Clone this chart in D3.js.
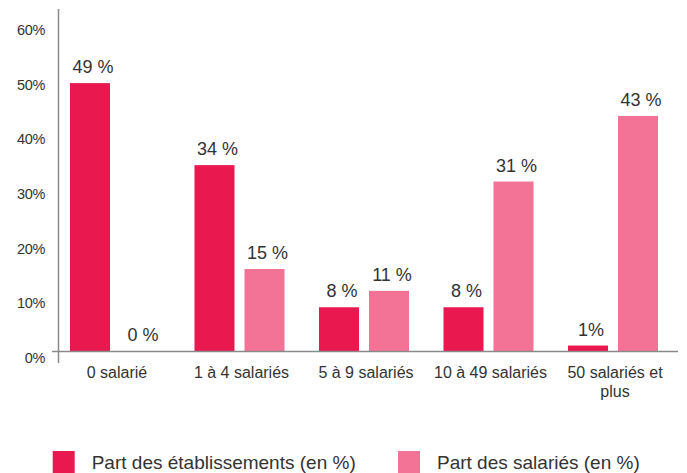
<!DOCTYPE html>
<html lang="fr">
<head>
<meta charset="utf-8">
<title>Etablissements et salariés par taille</title>
<script src="https://cdn.jsdelivr.net/npm/d3@7"></script>
<style>
  body { margin: 0; background: #fff; }
  text { font-family: "Liberation Sans", Arial, sans-serif; fill: #333; }
</style>
</head>
<body>
<script>
// data
var categories = ["0 salarié", "1 à 4 salariés", "5 à 9 salariés", "10 à 49 salariés", "50 salariés et plus"];
var seriesNames = ["Part des établissements (en %)", "Part des salariés (en %)"];
var etablissements = [49, 34, 8, 8, 1];
var salaries = [0, 15, 11, 31, 43];
var etabLabels = ["49 %", "34 %", "8 %", "8 %", "1%"];
var salLabels = ["0 %", "15 %", "11 %", "31 %", "43 %"];
var yTicks = [0, 10, 20, 30, 40, 50, 60];

var colors = ["#e9194f", "#f27395"];

var w = 687, h = 473;

var svg = d3.select("body").append("svg")
    .attr("width", w)
    .attr("height", h);

// scales
var y = d3.scaleLinear().domain([0, 60]).range([351, 23]);

var x0 = d3.scaleBand().domain(categories).range([52.75, 675.25]);
var x1 = d3.scaleBand().domain([0, 1]).range([17.25, 107.25]).paddingInner(0.2);

var rows = categories.map(function(c, i) {
  return {
    cat: c,
    vals: [
      { s: 0, v: etablissements[i], label: etabLabels[i] },
      { s: 1, v: salaries[i], label: salLabels[i] }
    ]
  };
});

// y tick labels, no tick marks
svg.selectAll("text.ytick")
  .data(yTicks)
  .enter().append("text")
  .attr("class", "ytick")
  .attr("x", 45)
  .attr("y", function(d) { return y(d) + 12; })
  .attr("text-anchor", "end")
  .attr("font-size", "14.5px")
  .attr("letter-spacing", "-0.3px")
  .text(function(d) { return d + "%"; });

// bars
var groups = svg.selectAll("g.grp")
  .data(rows)
  .enter().append("g")
  .attr("class", "grp")
  .attr("transform", function(d) { return "translate(" + x0(d.cat) + ",0)"; });

groups.selectAll("rect")
  .data(function(d) { return d.vals; })
  .enter().append("rect")
  .attr("x", function(d) { return x1(d.s); })
  .attr("y", function(d) { return y(d.v); })
  .attr("width", x1.bandwidth())
  .attr("height", function(d) { return y(0) - y(d.v); })
  .attr("fill", function(d) { return colors[d.s]; });

groups.selectAll("text.val")
  .data(function(d) { return d.vals; })
  .enter().append("text")
  .attr("class", "val")
  .attr("x", function(d) { return x1(d.s) + x1.bandwidth() / 2 + 3; })
  .attr("y", function(d) { return y(d.v) - 10; })
  .attr("text-anchor", "middle")
  .attr("font-size", "18px")
  .text(function(d) { return d.label; });

// axis lines
svg.append("line")
  .attr("x1", 58.5).attr("x2", 58.5)
  .attr("y1", 9).attr("y2", 363)
  .attr("stroke", "#8a8a8a").attr("stroke-width", 1.5);

svg.append("line")
  .attr("x1", 52).attr("x2", 678)
  .attr("y1", y(0) + 0.5).attr("y2", y(0) + 0.5)
  .attr("stroke", "#8a8a8a").attr("stroke-width", 1.5);

// category labels, last one wrapped
var catText = svg.selectAll("text.cat")
  .data(categories)
  .enter().append("text")
  .attr("class", "cat")
  .attr("text-anchor", "middle")
  .attr("font-size", "16px")
  .attr("y", y(0) + 27);

catText.each(function(d) {
  var t = d3.select(this);
  var cx = x0(d) + x0.bandwidth() / 2;
  var lines = d == "50 salariés et plus" ? ["50 salariés et", "plus"] : [d];
  lines.forEach(function(l, i) {
    t.append("tspan")
      .attr("x", cx + 2)
      .attr("dy", i == 0 ? 0 : 19)
      .text(l);
  });
});

// legend
var legendX = [52.7, 398];
var legend = svg.selectAll("g.leg")
  .data(seriesNames)
  .enter().append("g")
  .attr("class", "leg")
  .attr("transform", function(d, i) { return "translate(" + legendX[i] + ",451)"; });

legend.append("rect")
  .attr("width", 22).attr("height", 22)
  .attr("fill", function(d, i) { return colors[i]; });

legend.append("text")
  .attr("x", 39)
  .attr("y", 18)
  .attr("font-size", "19px")
  .attr("fill", "#444")
  .text(function(d) { return d; });
</script>
</body>
</html>
